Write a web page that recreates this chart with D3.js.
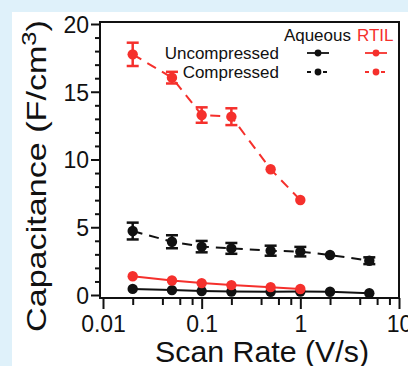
<!DOCTYPE html>
<html>
<head>
<meta charset="utf-8">
<script src="https://cdn.jsdelivr.net/npm/d3@7"></script>
<style>
  html, body { margin: 0; padding: 0; background: #dff1fa; }
  svg { display: block; font-family: "Liberation Sans", Arial, sans-serif; }
</style>
</head>
<body>
<svg id="chart" width="408" height="366"></svg>
<script>
// scan rates (V/s)
const rates = [0.02, 0.05, 0.1, 0.2, 0.5, 1, 2, 5];
// aqueous, uncompressed
const aqUncomp = [0.45, 0.36, 0.29, 0.25, 0.24, 0.25, 0.24, 0.13];
// aqueous, compressed (+ error)
const aqComp = [4.72, 3.93, 3.57, 3.44, 3.27, 3.2, 2.95, 2.53];
const aqCompErr = [0.62, 0.48, 0.42, 0.4, 0.37, 0.35, 0, 0.25];
// RTIL, uncompressed
const ilUncomp = [1.38, 1.07, 0.88, 0.73, 0.58, 0.44];
// RTIL, compressed (+ error)
const ilComp = [17.76, 16.04, 13.28, 13.16, 9.28, 7.01];
const ilCompErr = [0.86, 0.43, 0.57, 0.62, 0, 0];

const xMajor = [0.01, 0.1, 1, 10];
const xMajorLabels = ['0.01', '0.1', '1', '10'];
const yMajor = [0, 5, 10, 15, 20];

const red = '#f5302c';
const black = '#111';

const svg = d3.select('#chart');
svg.append('rect').attr('x', 12).attr('y', 12).attr('width', 396).attr('height', 354).attr('fill', '#fff');

const x = d3.scaleLog().domain([0.01, 10]).range([103, 399]);
const y = d3.scaleLinear().domain([0, 20]).range([295, 24]);

// frame
const frame = {l: 100, t: 22, r: 399, b: 298};
svg.append('rect')
  .attr('x', frame.l).attr('y', frame.t)
  .attr('width', frame.r - frame.l).attr('height', frame.b - frame.t)
  .attr('fill', 'none').attr('stroke', black).attr('stroke-width', 2);

// y axis: minor every 1, major every 5
const yMinor = d3.range(0, 21).filter(v => v % 5 !== 0);
const yAxisMinor = svg.append('g').attr('transform', `translate(${frame.l},0)`)
  .call(d3.axisLeft(y).tickValues(yMinor).tickSize(5).tickFormat(''));
const yAxisMajor = svg.append('g').attr('transform', `translate(${frame.l},0)`)
  .call(d3.axisLeft(y).tickValues(yMajor).tickSize(9).tickPadding(2).tickFormat(d3.format('d')));

// x axis: log, minor at 2,4,6,8
const xMinor = [];
[0.01, 0.1, 1].forEach(d => [2, 4, 6, 8].forEach(m => xMinor.push(+(d * m).toPrecision(3))));
const xAxisMinor = svg.append('g').attr('transform', `translate(0,${frame.b})`)
  .call(d3.axisBottom(x).tickValues(xMinor).tickSize(7).tickFormat(''));
const xAxisMajor = svg.append('g').attr('transform', `translate(0,${frame.b})`)
  .call(d3.axisBottom(x).tickValues(xMajor).tickSize(11).tickPadding(4)
    .tickFormat((d, i) => xMajorLabels[i]));

[yAxisMinor, yAxisMajor, xAxisMinor, xAxisMajor].forEach(g => {
  g.select('.domain').remove();
  g.selectAll('.tick line').attr('stroke', black).attr('stroke-width', 2);
  g.selectAll('.tick text').attr('fill', black).style('font-size', '23px')
    .style('font-family', '"Liberation Sans", Arial, sans-serif');
});
xAxisMajor.selectAll('.tick text').attr('dy', null).attr('y', 34);
yAxisMajor.selectAll('.tick text').attr('dy', '0.36em');

// axis titles
svg.append('text')
  .attr('x', 262).attr('y', 362)
  .attr('text-anchor', 'middle')
  .attr('textLength', 214).attr('lengthAdjust', 'spacingAndGlyphs')
  .style('font-size', '29px').attr('fill', black)
  .text('Scan Rate (V/s)');

const yTitle = svg.append('text')
  .attr('transform', 'translate(46,176) rotate(-90)')
  .attr('text-anchor', 'middle')
  .attr('textLength', 312).attr('lengthAdjust', 'spacingAndGlyphs')
  .style('font-size', '28px').attr('fill', black);
yTitle.append('tspan').text('Capacitance (F/cm');
yTitle.append('tspan').attr('dy', -10).style('font-size', '21px').text('3');
yTitle.append('tspan').attr('dy', 10).text(')');

// series
const line = d3.line().x(d => x(d[0])).y(d => y(d[1]));

function series(vals, errs, color, dashed) {
  const pts = vals.map((v, i) => [rates[i], v, errs ? errs[i] : 0]);
  const g = svg.append('g');
  g.append('path').attr('d', line(pts))
    .attr('fill', 'none').attr('stroke', color).attr('stroke-width', 2)
    .attr('stroke-dasharray', dashed ? '10,7' : null);
  const eb = g.selectAll('.err').data(pts.filter(d => d[2] > 0)).join('g');
  eb.append('line')
    .attr('x1', d => x(d[0])).attr('x2', d => x(d[0]))
    .attr('y1', d => y(d[1] - d[2])).attr('y2', d => y(d[1] + d[2]))
    .attr('stroke', color).attr('stroke-width', 2.5);
  [-1, 1].forEach(s => eb.append('line')
    .attr('x1', d => x(d[0]) - 6).attr('x2', d => x(d[0]) + 6)
    .attr('y1', d => y(d[1] + s * d[2])).attr('y2', d => y(d[1] + s * d[2]))
    .attr('stroke', color).attr('stroke-width', 2.5));
  g.selectAll('circle').data(pts).join('circle')
    .attr('cx', d => x(d[0])).attr('cy', d => y(d[1])).attr('r', 5.2)
    .attr('fill', color);
}

series(aqComp, aqCompErr, black, true);
series(ilComp, ilCompErr, red, true);
series(aqUncomp, null, black, false);
series(ilUncomp, null, red, false);

// legend
const legend = svg.append('g').style('font-size', '17px');
legend.append('text').attr('x', 351).attr('y', 41).attr('text-anchor', 'end').attr('fill', black).text('Aqueous');
legend.append('text').attr('x', 357).attr('y', 41).attr('fill', red).text('RTIL');
const rows = [['Uncompressed', 53, false], ['Compressed', 72, true]];
rows.forEach(([label, ly, dashed]) => {
  legend.append('text').attr('x', 279).attr('y', ly + 5.5).attr('text-anchor', 'end').attr('fill', black).text(label);
  [[318, black], [376, red]].forEach(([cx, color]) => {
    legend.append('line').attr('x1', cx - 11).attr('x2', cx + 11).attr('y1', ly).attr('y2', ly)
      .attr('stroke', color).attr('stroke-width', 1.8)
      .attr('stroke-dasharray', dashed ? '4,4' : null);
    legend.append('circle').attr('cx', cx).attr('cy', ly).attr('r', 3.4).attr('fill', color);
  });
});
</script>
</body>
</html>
